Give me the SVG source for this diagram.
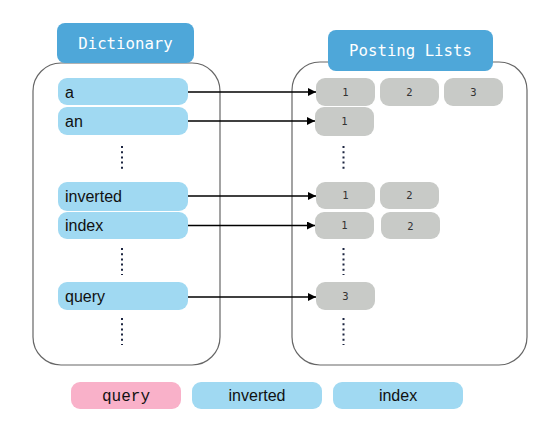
<svg xmlns="http://www.w3.org/2000/svg" width="554" height="425" viewBox="0 0 554 425">
<defs>
<marker id="ah" viewBox="0 0 10 10" refX="10" refY="5" markerWidth="10" markerHeight="8" markerUnits="userSpaceOnUse" orient="auto"><path d="M0,0 L10,5 L0,10 z" fill="#000"/></marker>
<style>
.cont{fill:#fff;stroke:#666;stroke-width:1.2}
.hdr{fill:#4ea7d9}
.hdrt{font-family:"DejaVu Sans Mono",monospace;font-size:15.7px;fill:#fff;text-anchor:middle}
.term{fill:#a0d9f2}
.termt{font-family:"Liberation Sans",Arial,sans-serif;font-size:16px;fill:#111}
.cell{fill:#c8cac7}
.cellt{font-family:"DejaVu Sans Mono",monospace;font-size:10.5px;fill:#333;text-anchor:middle}
.dots{stroke:#1c2540;stroke-width:2;stroke-dasharray:2 3.2}
.conn{stroke:#000;stroke-width:1.5;fill:none;marker-end:url(#ah)}
.leg{font-family:"Liberation Sans",Arial,sans-serif;font-size:16px;fill:#111;text-anchor:middle}
</style>
</defs>
<rect class="cont" x="33" y="63" width="187" height="302" rx="28"/>
<rect class="cont" x="292" y="62" width="235" height="303" rx="28"/>
<g id="dictionary-header"><rect class="hdr" x="57" y="23" width="137" height="40" rx="8"/><text class="hdrt" x="125.5" y="48.5">Dictionary</text></g>
<g id="posting-header"><rect class="hdr" x="328" y="30" width="165" height="41" rx="8"/><text class="hdrt" x="410.5" y="56">Posting Lists</text></g>
<g id="term-a"><rect class="term" x="58" y="78" width="130" height="27" rx="9"/><text class="termt" x="65" y="97.5">a</text></g>
<g id="term-an"><rect class="term" x="58" y="107" width="130" height="28" rx="9"/><text class="termt" x="65" y="127">an</text></g>
<g id="term-inverted"><rect class="term" x="58" y="182" width="130" height="29" rx="9"/><text class="termt" x="65" y="202">inverted</text></g>
<g id="term-index"><rect class="term" x="58" y="212" width="130" height="27" rx="9"/><text class="termt" x="65" y="231">index</text></g>
<g id="term-query"><rect class="term" x="58" y="282" width="130" height="28" rx="9"/><text class="termt" x="65" y="302">query</text></g>
<g id="post-a">
<rect class="cell" x="316" y="78" width="59" height="28" rx="9"/><text class="cellt" x="345.5" y="95.5">1</text>
<rect class="cell" x="380" y="78" width="59" height="28" rx="9"/><text class="cellt" x="409.5" y="95.5">2</text>
<rect class="cell" x="444" y="78" width="59" height="28" rx="9"/><text class="cellt" x="473.5" y="95.5">3</text>
</g>
<g id="post-an"><rect class="cell" x="315" y="107" width="59" height="29" rx="9"/><text class="cellt" x="344.5" y="125">1</text></g>
<g id="post-inverted">
<rect class="cell" x="316" y="182" width="59" height="27" rx="9"/><text class="cellt" x="345.5" y="199">1</text>
<rect class="cell" x="380" y="182" width="59" height="27" rx="9"/><text class="cellt" x="409.5" y="199">2</text>
</g>
<g id="post-index">
<rect class="cell" x="315" y="212" width="59" height="27" rx="9"/><text class="cellt" x="344.5" y="229">1</text>
<rect class="cell" x="381" y="212" width="59" height="27" rx="9"/><text class="cellt" x="410.5" y="229.5">2</text>
</g>
<g id="post-query"><rect class="cell" x="316" y="282" width="59" height="28" rx="9"/><text class="cellt" x="345.5" y="299.5">3</text></g>
<g id="dots">
<line class="dots" x1="122" y1="146" x2="122" y2="172"/>
<line class="dots" x1="122" y1="248" x2="122" y2="275"/>
<line class="dots" x1="122" y1="318" x2="122" y2="345"/>
<line class="dots" x1="343.5" y1="146" x2="343.5" y2="172"/>
<line class="dots" x1="343.5" y1="248" x2="343.5" y2="275"/>
<line class="dots" x1="343.5" y1="318" x2="343.5" y2="345"/>
</g>
<g id="connectors">
<line class="conn" x1="188" y1="92" x2="316" y2="92"/>
<line class="conn" x1="188" y1="121" x2="315" y2="121"/>
<line class="conn" x1="188" y1="196" x2="316" y2="196"/>
<line class="conn" x1="188" y1="225.5" x2="315" y2="225.5"/>
<line class="conn" x1="188" y1="297" x2="316" y2="297"/>
</g>
<g id="legend-query"><rect x="71" y="382" width="110" height="27" rx="9" fill="#f9b1c9"/><text x="126" y="401" text-anchor="middle" font-family="'Liberation Mono','Courier New',monospace" font-size="16" fill="#111">query</text></g>
<g id="legend-inverted"><rect class="term" x="192" y="382" width="130" height="27" rx="9"/><text class="leg" x="257" y="401">inverted</text></g>
<g id="legend-index"><rect class="term" x="333" y="382" width="130" height="27" rx="9"/><text class="leg" x="398" y="401">index</text></g>
</svg>
